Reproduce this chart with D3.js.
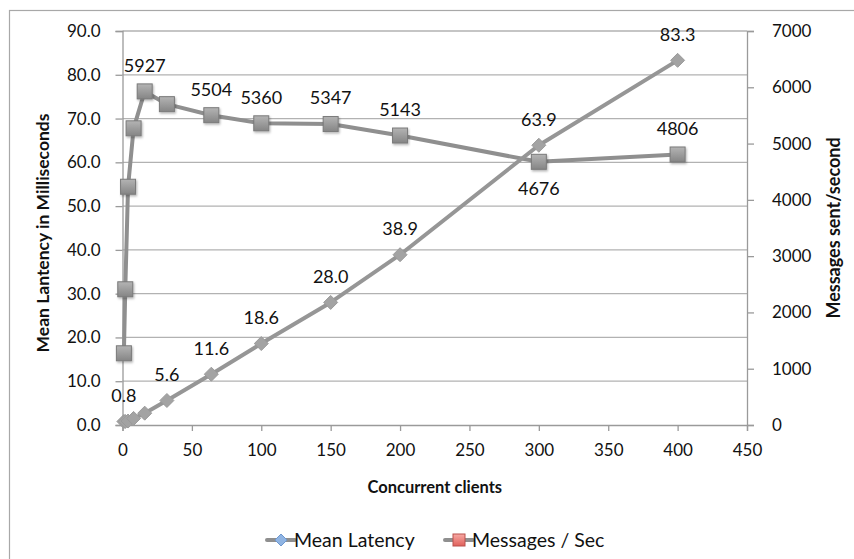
<!DOCTYPE html>
<html>
<head>
<meta charset="utf-8">
<script src="https://cdn.jsdelivr.net/npm/d3@7"></script>
<style>
  html, body { margin: 0; padding: 0; background: #fff; }
  svg { display: block; font-family: Lato, "Open Sans", sans-serif; }
</style>
</head>
<body>
<svg id="chart" width="854" height="559"></svg>
<script>
// Concurrent clients on the x axis
const clients = [1, 2, 4, 8, 16, 32, 64, 100, 150, 200, 300, 400];
// Mean latency (ms), left axis
const latency = [0.8, 0.8, 0.9, 1.5, 2.7, 5.6, 11.6, 18.6, 28.0, 38.9, 63.9, 83.3];
// Messages sent per second, right axis
const throughput = [1274, 2411, 4233, 5271, 5927, 5700, 5504, 5360, 5347, 5143, 4676, 4806];
// Which points carry a value label
const latencyLabelled = [1, 32, 64, 100, 150, 200, 300, 400];
const throughputLabelled = [16, 64, 100, 150, 200, 300, 400];
const throughputBelow = [300];

const xTicks = [0, 50, 100, 150, 200, 250, 300, 350, 400, 450];
const leftTicks = [0, 10, 20, 30, 40, 50, 60, 70, 80, 90];
const rightTicks = [0, 1000, 2000, 3000, 4000, 5000, 6000, 7000];

const seriesNames = ["Mean Latency", "Messages / Sec"];
const axisTitles = {
  x: "Concurrent clients",
  left: "Mean Lantency in Milliseconds",
  right: "Messages sent/second"
};

const svg = d3.select("#chart");
const plot = { left: 122.5, right: 747, top: 31, bottom: 425 };

const x = d3.scaleLinear().domain([0, 450]).range([plot.left, plot.right]);
const yL = d3.scaleLinear().domain([0, 90]).range([plot.bottom, plot.top]);
const yR = d3.scaleLinear().domain([0, 7000]).range([plot.bottom, plot.top]);

const defs = svg.append("defs");
const sq = defs.append("linearGradient").attr("id", "sqGrad").attr("x1", 0).attr("y1", 0).attr("x2", 0).attr("y2", 1);
sq.append("stop").attr("offset", "0%").attr("stop-color", "#b4b4b4");
sq.append("stop").attr("offset", "100%").attr("stop-color", "#858585");
const red = defs.append("linearGradient").attr("id", "redGrad").attr("x1", 0).attr("y1", 0).attr("x2", 0).attr("y2", 1);
red.append("stop").attr("offset", "0%").attr("stop-color", "#f7a9a4");
red.append("stop").attr("offset", "100%").attr("stop-color", "#e0605a");
const shadow = defs.append("filter").attr("id", "shadow").attr("x", "-50%").attr("y", "-50%").attr("width", "200%").attr("height", "200%");
shadow.append("feDropShadow").attr("dx", 1).attr("dy", 1.5).attr("stdDeviation", 1.2)
  .attr("flood-color", "#000").attr("flood-opacity", 0.3);
const soft = defs.append("filter").attr("id", "soft").attr("x", "-50%").attr("y", "-50%").attr("width", "200%").attr("height", "200%");
soft.append("feGaussianBlur").attr("stdDeviation", 0.6);

// Outer chart frame
svg.append("rect")
  .attr("x", 9.5).attr("y", 10.5).attr("width", 900).attr("height", 600)
  .attr("fill", "#fff").attr("stroke", "#a8a8a8").attr("stroke-width", 1.2);

// Horizontal gridlines from the left axis
svg.append("g").selectAll("line")
  .data(leftTicks.filter(d => d > 0))
  .join("line")
  .attr("x1", plot.left).attr("x2", plot.right)
  .attr("y1", d => yL(d)).attr("y2", d => yL(d))
  .attr("stroke", "#b2b2b2").attr("stroke-width", 1.3);

// Axes
const axisColor = "#9a9a9a";
const gx = svg.append("g").attr("transform", `translate(0,${plot.bottom})`)
  .call(d3.axisBottom(x).tickValues(xTicks).tickSize(6).tickPadding(13).tickFormat(d3.format("d")));
const gl = svg.append("g").attr("transform", `translate(${plot.left},0)`)
  .call(d3.axisLeft(yL).tickValues(leftTicks).tickSize(7).tickPadding(15).tickFormat(d3.format(".1f")));
const gr = svg.append("g").attr("transform", `translate(${plot.right},0)`)
  .call(d3.axisRight(yR).tickValues(rightTicks).tickSize(7).tickPadding(18).tickFormat(d3.format("d")));
[gx, gl, gr].forEach(g => {
  g.select(".domain").attr("stroke", axisColor).attr("stroke-width", 1.3);
  g.selectAll(".tick line").attr("stroke", axisColor).attr("stroke-width", 1.3);
  g.selectAll(".tick text").attr("fill", "#111").attr("font-size", 17)
    .attr("font-family", "Lato, 'Open Sans', sans-serif");
});
gx.selectAll(".tick text").attr("dy", "0.71em");

// Axis titles
svg.append("text").attr("x", (plot.left + plot.right) / 2).attr("y", 493)
  .attr("text-anchor", "middle").attr("font-weight", "bold").attr("font-size", 16.5)
  .attr("fill", "#111").text(axisTitles.x);
svg.append("text").attr("transform", `translate(49,233) rotate(-90)`)
  .attr("text-anchor", "middle").attr("font-weight", "bold").attr("font-size", 17.5)
  .attr("fill", "#111").text(axisTitles.left);
svg.append("text").attr("transform", `translate(840,228) rotate(-90)`)
  .attr("text-anchor", "middle").attr("font-weight", "bold").attr("font-size", 18)
  .attr("fill", "#111").text(axisTitles.right);

const lineColor = "#8f8f8f";

// Messages / Sec series
const tpData = clients.map((c, i) => ({ c, v: throughput[i] }));
svg.append("path").datum(tpData)
  .attr("fill", "none").attr("stroke", lineColor).attr("stroke-width", 4)
  .attr("stroke-linejoin", "round")
  .attr("d", d3.line().x(d => x(d.c)).y(d => yR(d.v)));

// Mean Latency series
const latData = clients.map((c, i) => ({ c, v: latency[i] }));
svg.append("path").datum(latData)
  .attr("fill", "none").attr("stroke", "#969696").attr("stroke-width", 4)
  .attr("stroke-linejoin", "round")
  .attr("d", d3.line().x(d => x(d.c)).y(d => yL(d.v)));

// Latency markers (diamonds)
svg.append("g").selectAll("path")
  .data(latData)
  .join("path")
  .attr("transform", d => `translate(${x(d.c)},${yL(d.v)})`)
  .attr("d", "M0,-7L7,0L0,7L-7,0Z")
  .attr("fill", "#a3a3a3").attr("stroke", "#9a9a9a").attr("stroke-width", 1)
  .attr("filter", "url(#soft)");

// Throughput markers (squares)
svg.append("g").selectAll("rect")
  .data(tpData)
  .join("rect")
  .attr("x", d => x(d.c) - 7.5).attr("y", d => yR(d.v) - 7.5)
  .attr("width", 15).attr("height", 15)
  .attr("fill", "url(#sqGrad)").attr("stroke", "#7a7a7a").attr("stroke-width", 1)
  .attr("filter", "url(#shadow)");

// Value labels
const labelSize = 18;
svg.append("g").selectAll("text")
  .data(latData.filter(d => latencyLabelled.includes(d.c)))
  .join("text")
  .attr("x", d => x(d.c)).attr("y", d => yL(d.v) - 26)
  .attr("dy", "0.35em").attr("text-anchor", "middle")
  .attr("font-size", labelSize).attr("fill", "#111")
  .text(d => d3.format(".1f")(d.v));
svg.append("g").selectAll("text")
  .data(tpData.filter(d => throughputLabelled.includes(d.c)))
  .join("text")
  .attr("x", d => x(d.c))
  .attr("y", d => yR(d.v) + (throughputBelow.includes(d.c) ? 27 : -26))
  .attr("dy", "0.35em").attr("text-anchor", "middle")
  .attr("font-size", labelSize).attr("fill", "#111")
  .text(d => d3.format("d")(d.v));

// Legend
const legend = svg.append("g").attr("transform", "translate(0,540)");
const items = [
  { name: seriesNames[0], x0: 267, shape: "diamond" },
  { name: seriesNames[1], x0: 445, shape: "square" }
];
items.forEach(it => {
  const g = legend.append("g").attr("transform", `translate(${it.x0},0)`);
  g.append("line").attr("x1", 0).attr("x2", 28).attr("y1", 0).attr("y2", 0)
    .attr("stroke", lineColor).attr("stroke-width", 4).attr("stroke-linecap", "round");
  if (it.shape === "diamond") {
    g.append("path").attr("transform", "translate(14,0)").attr("d", "M0,-6L6,0L0,6L-6,0Z")
      .attr("fill", "#8fb4e3").attr("stroke", "#6d97cf").attr("stroke-width", 1);
  } else {
    g.append("rect").attr("x", 8).attr("y", -6).attr("width", 12).attr("height", 12)
      .attr("fill", "url(#redGrad)").attr("stroke", "#b9514c").attr("stroke-width", 1);
  }
  g.append("text").attr("x", 27).attr("y", 0).attr("dy", "0.35em")
    .attr("font-size", 19.5).attr("fill", "#111").text(it.name);
});
</script>
</body>
</html>
